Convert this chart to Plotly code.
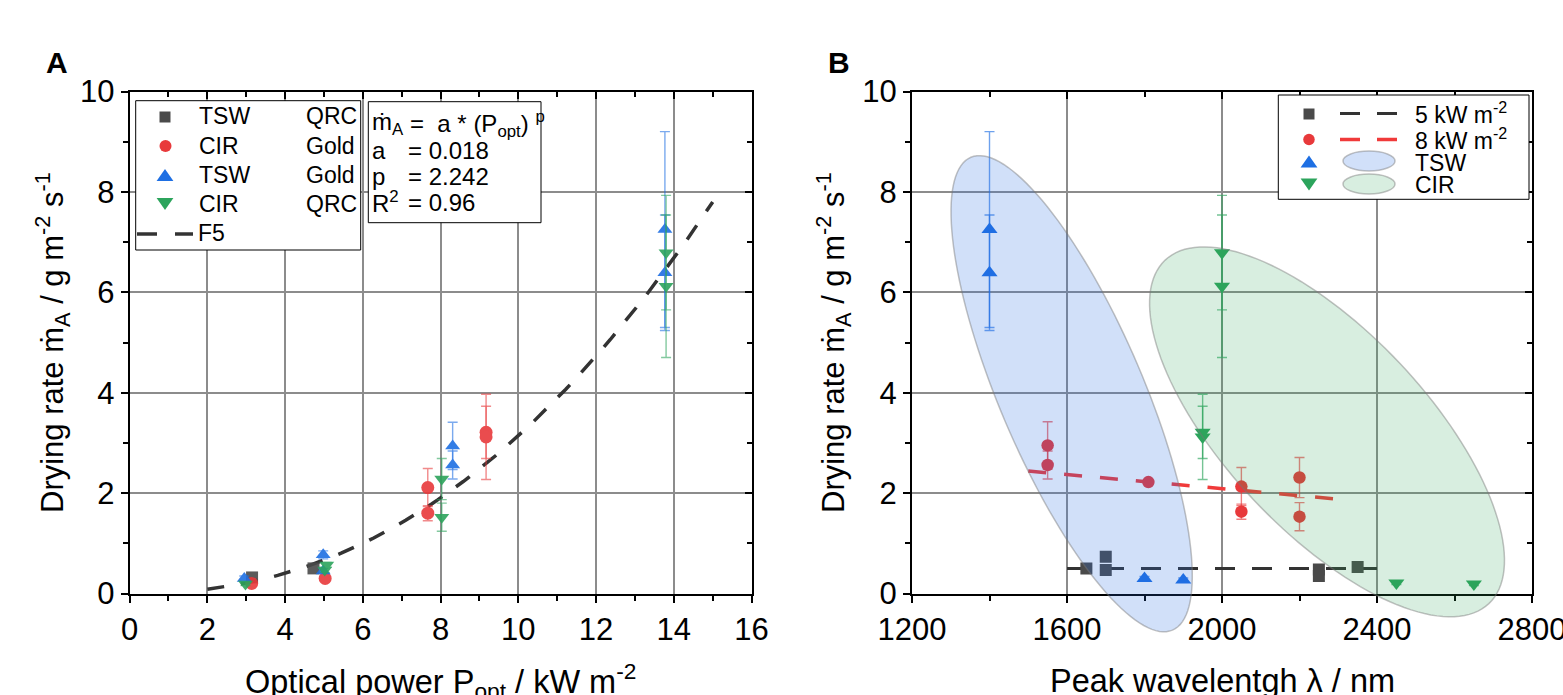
import numpy as np
import plotly.graph_objects as go

W, H = 1563, 695

# ---------------- Panel A data (optical power vs drying rate) ----------------
a_tsw_qrc_x = [3.15, 4.73]
a_tsw_qrc_y = [0.32, 0.50]

a_cir_gold_x = [3.14, 5.03, 7.67, 7.67, 9.17, 9.17]
a_cir_gold_y = [0.20, 0.30, 2.11, 1.60, 3.21, 3.12]
a_cir_gold_err = [0.04, 0.05, 0.38, 0.15, 0.52, 0.85]

a_tsw_gold_x = [2.95, 4.98, 4.98, 8.31, 8.31, 13.77, 13.77]
a_tsw_gold_y = [0.30, 0.77, 0.45, 2.94, 2.56, 7.25, 6.39]
a_tsw_gold_err = [0.05, 0.08, 0.05, 0.47, 0.28, 1.95, 1.15]

a_cir_qrc_x = [2.98, 5.07, 5.02, 8.03, 8.03, 13.80, 13.80]
a_cir_qrc_y = [0.19, 0.57, 0.47, 2.28, 1.52, 6.79, 6.12]
a_cir_qrc_err = [0.03, 0.05, 0.05, 0.41, 0.28, 1.14, 1.42]

# fit F5: m = a * P^p
fit_a = 0.018
fit_p = 2.242
fit_r2 = 0.96
fit_p_min, fit_p_max = 2.0, 15.0

# ---------------- Panel B data (peak wavelength vs drying rate) ----------------
b_5kw_x = [1650, 1700, 1700, 2250, 2250, 2350]
b_5kw_y = [0.50, 0.73, 0.47, 0.48, 0.35, 0.53]

b_8kw_x = [1550, 1550, 1810, 2050, 2050, 2200, 2200]
b_8kw_y = [2.95, 2.56, 2.22, 2.13, 1.63, 2.31, 1.53]
b_8kw_err = [0.47, 0.28, 0.05, 0.38, 0.15, 0.40, 0.28]

b_tsw_x = [1400, 1400, 1800, 1900]
b_tsw_y = [7.25, 6.39, 0.30, 0.27]
b_tsw_err = [1.95, 1.15, 0.04, 0.04]

b_cir_x = [1950, 1950, 2000, 2000, 2450, 2650]
b_cir_y = [3.21, 3.12, 6.79, 6.12, 0.21, 0.19]
b_cir_err = [0.52, 0.85, 1.14, 1.42, 0.03, 0.03]

b_5kw_line_x = [1600, 2400]
b_5kw_line_y = [0.50, 0.50]
b_8kw_line_x = [1500, 2300]
b_8kw_line_y = [2.44, 1.88]

# cluster ellipses (centre in data units; semi-axes in px, tilt in degrees)
ell_tsw = dict(cx=1612, cy=3.98, a=257, b=72, ang=66.9)
ell_cir = dict(cx=2271, cy=3.22, a=236, b=100, ang=46.7)

# ---------------- styling ----------------
FONT = "Liberation Sans, Arial, sans-serif"
C_BLACK = "#4a4a4a"
C_RED = "#e8393b"
C_BLUE = "#1e6fe3"
C_GREEN = "#2ca45c"
ERR = {C_BLACK: "rgba(74,74,74,0.6)", C_RED: "rgba(232,57,59,0.65)",
       C_BLUE: "rgba(30,111,227,0.65)", C_GREEN: "rgba(44,164,92,0.65)"}

A_X0, A_X1 = 129.6, 751.6
B_X0, B_X1 = 912.0, 1532.0
P_TOP, P_BOT = 91.5, 593.5
A_RANGE = [0, 16]
B_RANGE = [1200, 2800]
Y_RANGE = [0, 10]


def bx(v):
    return B_X0 + (v - B_RANGE[0]) / (B_RANGE[1] - B_RANGE[0]) * (B_X1 - B_X0)


def by(v):
    return P_BOT - (v - Y_RANGE[0]) / (Y_RANGE[1] - Y_RANGE[0]) * (P_BOT - P_TOP)


def pxx(px):
    return px / W


def pyy(py):
    return (H - py) / H


fig = go.Figure()


def add_series(x, y, err, color, symbol, size, xa, ya, opacity=0.9):
    kw = {}
    if err is not None:
        kw["error_y"] = dict(type="data", array=err, visible=True, color=ERR[color],
                             thickness=1.4, width=5)
    fig.add_trace(go.Scatter(x=x, y=y, mode="markers", xaxis=xa, yaxis=ya,
                             marker=dict(color=color, symbol=symbol, size=size,
                                         line=dict(width=0)),
                             opacity=opacity, showlegend=False, **kw))


# Panel A traces
fit_x = np.linspace(fit_p_min, fit_p_max, 80)
fig.add_trace(go.Scatter(x=fit_x, y=fit_a * fit_x ** fit_p, mode="lines",
                         line=dict(color="#333333", width=3.5, dash="17px,17px"),
                         showlegend=False, xaxis="x", yaxis="y"))
add_series(a_tsw_qrc_x, a_tsw_qrc_y, None, C_BLACK, "square", 12, "x", "y")
add_series(a_cir_gold_x, a_cir_gold_y, a_cir_gold_err, C_RED, "circle", 13, "x", "y")
add_series(a_tsw_gold_x, a_tsw_gold_y, a_tsw_gold_err, C_BLUE, "triangle-up", 13, "x", "y")
add_series(a_cir_qrc_x, a_cir_qrc_y, a_cir_qrc_err, C_GREEN, "triangle-down", 13, "x", "y")

# Panel B traces
fig.add_trace(go.Scatter(x=b_5kw_line_x, y=b_5kw_line_y, mode="lines",
                         line=dict(color="#333333", width=3, dash="20px,17px"),
                         showlegend=False, xaxis="x2", yaxis="y2"))
fig.add_trace(go.Scatter(x=b_8kw_line_x, y=b_8kw_line_y, mode="lines",
                         line=dict(color="#f03a3a", width=3.5, dash="18px,18px"),
                         showlegend=False, xaxis="x2", yaxis="y2"))
add_series(b_5kw_x, b_5kw_y, None, C_BLACK, "square", 12, "x2", "y2", 1)
add_series(b_8kw_x, b_8kw_y, b_8kw_err, C_RED, "circle", 12.5, "x2", "y2", 1)
add_series(b_tsw_x, b_tsw_y, b_tsw_err, C_BLUE, "triangle-up", 14, "x2", "y2", 1)
add_series(b_cir_x, b_cir_y, b_cir_err, C_GREEN, "triangle-down", 14, "x2", "y2", 1)

# dummy traces for the top/right frame axes
fig.add_trace(go.Scatter(x=[None], y=[None], xaxis="x3", yaxis="y3", showlegend=False))
fig.add_trace(go.Scatter(x=[None], y=[None], xaxis="x4", yaxis="y4", showlegend=False))

tickfont = dict(family=FONT, size=31, color="black")
GRID = "#8c8c8c"


def main_x(dom, rng, dtick, mdtick, anchor):
    return dict(domain=dom, range=rng, anchor=anchor, dtick=dtick, tick0=rng[0],
                automargin=False, ticklabeloverflow="allow",
                showline=True, linecolor="black", linewidth=2,
                ticks="outside", ticklen=7, tickwidth=1.5, tickcolor="black",
                tickfont=tickfont, showgrid=True, gridcolor=GRID, gridwidth=1.6,
                zeroline=False,
                minor=dict(dtick=mdtick, tick0=rng[0], ticks="outside", ticklen=5,
                           tickwidth=1.5, tickcolor="black", showgrid=False))


def frame_ax(overlay, rng, dtick, mdtick, side, anchor):
    return dict(overlaying=overlay, range=rng, side=side, anchor=anchor,
                automargin=False,
                dtick=dtick, tick0=rng[0], showline=True, linecolor="black", linewidth=2,
                ticks="inside", ticklen=7, tickwidth=1.5, tickcolor="black",
                showticklabels=False, showgrid=False, zeroline=False,
                minor=dict(dtick=mdtick, tick0=rng[0], ticks="inside", ticklen=5,
                           tickwidth=1.5, tickcolor="black", showgrid=False))


ydom = [pyy(P_BOT), pyy(P_TOP)]
layout = dict(
    width=W, height=H, margin=dict(l=0, r=0, t=0, b=0, autoexpand=False),
    paper_bgcolor="white", plot_bgcolor="white", showlegend=False,
    font=dict(family=FONT, color="black"),
    xaxis=main_x([pxx(A_X0), pxx(A_X1)], A_RANGE, 2, 1, "y"),
    yaxis=main_x(ydom, Y_RANGE, 2, 1, "x"),
    xaxis2=main_x([pxx(B_X0), pxx(B_X1)], B_RANGE, 400, 200, "y2"),
    yaxis2=main_x(ydom, Y_RANGE, 2, 1, "x2"),
    xaxis3=frame_ax("x", A_RANGE, 2, 1, "top", "y3"),
    yaxis3=frame_ax("y", Y_RANGE, 2, 1, "right", "x3"),
    xaxis4=frame_ax("x2", B_RANGE, 400, 200, "top", "y4"),
    yaxis4=frame_ax("y2", Y_RANGE, 2, 1, "right", "x4"),
)
fig.update_layout(**layout)

shapes = []
annotations = []


def rect(x0, y0, x1, y1, fill="white", line="black", lw=1):
    shapes.append(dict(type="rect", xref="paper", yref="paper", layer="above",
                       x0=pxx(x0), x1=pxx(x1), y0=pyy(y1), y1=pyy(y0),
                       fillcolor=fill, line=dict(color=line, width=lw)))


def seg(x0, y0, x1, y1, color, width):
    shapes.append(dict(type="line", xref="paper", yref="paper", layer="above",
                       x0=pxx(x0), x1=pxx(x1), y0=pyy(y0), y1=pyy(y1),
                       line=dict(color=color, width=width)))


def glyph(kind, cx, cy, color, s):
    h = s / 2
    if kind == "square":
        shapes.append(dict(type="rect", xref="paper", yref="paper", layer="above",
                           x0=pxx(cx - h), x1=pxx(cx + h), y0=pyy(cy + h), y1=pyy(cy - h),
                           fillcolor=color, line=dict(width=0)))
    elif kind == "circle":
        shapes.append(dict(type="circle", xref="paper", yref="paper", layer="above",
                           x0=pxx(cx - h), x1=pxx(cx + h), y0=pyy(cy + h), y1=pyy(cy - h),
                           fillcolor=color, line=dict(width=0)))
    else:
        w = s * 0.6
        hh = s * 0.42
        if kind == "up":
            pts = [(cx - w, cy + hh), (cx + w, cy + hh), (cx, cy - hh)]
        else:
            pts = [(cx - w, cy - hh), (cx + w, cy - hh), (cx, cy + hh)]
        path = "M" + " L".join(f"{pxx(x):.5f},{pyy(y):.5f}" for x, y in pts) + " Z"
        shapes.append(dict(type="path", xref="paper", yref="paper", layer="above",
                           path=path, fillcolor=color, line=dict(width=0)))


OUTLINE = "rgba(120,120,120,0.45)"


def ellipse(e, fill, outline=OUTLINE):
    cx, cy = bx(e["cx"]), by(e["cy"])
    th = np.radians(e["ang"])
    t = np.linspace(0, 2 * np.pi, 145)
    px = cx + e["a"] * np.cos(th) * np.cos(t) - e["b"] * np.sin(th) * np.sin(t)
    py = cy + e["a"] * np.sin(th) * np.cos(t) + e["b"] * np.cos(th) * np.sin(t)
    path = "M" + " L".join(f"{pxx(x):.5f},{pyy(y):.5f}" for x, y in zip(px, py)) + " Z"
    shapes.append(dict(type="path", xref="paper", yref="paper", layer="above",
                       path=path, fillcolor=fill, line=dict(color=outline, width=1.5)))


def txt(px, py, s, size=23, xanchor="left", yanchor="middle", bold=False, angle=0):
    annotations.append(dict(x=pxx(px), y=pyy(py), xref="paper", yref="paper",
                            text=f"<b>{s}</b>" if bold else s, showarrow=False,
                            xanchor=xanchor, yanchor=yanchor, textangle=angle,
                            font=dict(family=FONT, size=size, color="black")))


BLUE_FILL = "rgba(40,110,225,0.21)"
GREEN_FILL = "rgba(50,165,90,0.19)"

# ellipses in panel B
ellipse(ell_tsw, BLUE_FILL)
ellipse(ell_cir, GREEN_FILL)

# Panel A legend
rect(135.7, 100.7, 360.7, 250)
glyph("square", 165, 117, C_BLACK, 11)
glyph("circle", 165.5, 146, C_RED, 12)
glyph("up", 165, 175, C_BLUE, 14)
glyph("down", 165, 204, C_GREEN, 14)
seg(137, 234, 157, 234, "#333333", 3.5)
seg(175, 234, 193, 234, "#333333", 3.5)
rows_a = [("TSW", "QRC", 116), ("CIR", "Gold", 145.5), ("TSW", "Gold", 174.5), ("CIR", "QRC", 204)]
for l1, l2, yy in rows_a:
    txt(197, yy, l1)
    txt(304, yy, l2)
txt(196, 233, "F5")

# Panel A formula box
rect(368.3, 101.7, 541, 222.7)
txt(370, 124, "ṁ<sub>A</sub>", 24)
txt(408, 124, "=\u00a0\u00a0a * (P<sub>opt</sub>)\u00a0<sup>p</sup>", 24)
txt(370, 150, "a", 24)
txt(406, 150, f"= {fit_a:.3f}", 24)
txt(370, 176, "p", 24)
txt(406, 176, f"= {fit_p:.3f}", 24)
txt(370, 202, "R<sup>2</sup>", 24)
txt(406, 202, f"= {fit_r2:.2f}", 24)

# Panel B legend
rect(1278.3, 95, 1529, 199.3)
glyph("square", 1309, 114, C_BLACK, 11)
glyph("circle", 1309, 139.5, C_RED, 11.5)
glyph("up", 1309, 161.5, C_BLUE, 14)
glyph("down", 1309, 184.5, C_GREEN, 14)
seg(1340, 113.5, 1360, 113.5, "#333333", 3)
seg(1377, 113.5, 1397, 113.5, "#333333", 3)
seg(1340, 139.5, 1360, 139.5, "#f03a3a", 3.5)
seg(1377, 139.5, 1397, 139.5, "#f03a3a", 3.5)
shapes.append(dict(type="circle", xref="paper", yref="paper", layer="above",
                   x0=pxx(1343), x1=pxx(1395), y0=pyy(171), y1=pyy(151),
                   fillcolor=BLUE_FILL, line=dict(color=OUTLINE, width=1.5)))
shapes.append(dict(type="circle", xref="paper", yref="paper", layer="above",
                   x0=pxx(1343), x1=pxx(1395), y0=pyy(194), y1=pyy(174),
                   fillcolor=GREEN_FILL, line=dict(color=OUTLINE, width=1.5)))
txt(1413, 113, "5 kW m<sup>-2</sup>")
txt(1413, 138.5, "8 kW m<sup>-2</sup>")
txt(1413, 162.5, "TSW")
txt(1413, 185, "CIR")

# panel letters and axis titles
txt(57, 62, "A", 30, xanchor="center", bold=True)
txt(839, 62, "B", 30, xanchor="center", bold=True)
ytitle = "Drying rate ṁ<sub>A</sub> / g m<sup>-2</sup> s<sup>-1</sup>"
txt(52, 343, ytitle, 31, xanchor="center", angle=-90)
txt(833, 343, ytitle, 31, xanchor="center", angle=-90)
txt((A_X0 + A_X1) / 2, 681, "Optical power P<sub>opt</sub> / kW m<sup>-2</sup>", 32.5, xanchor="center")
txt((B_X0 + B_X1) / 2, 681, "Peak wavelentgh λ / nm", 32.5, xanchor="center")

fig.update_layout(shapes=shapes, annotations=annotations)

fig.write_html("out.html", config={"displayModeBar": False},
               post_script="document.body.style.margin='0';document.body.style.overflow='hidden';")
